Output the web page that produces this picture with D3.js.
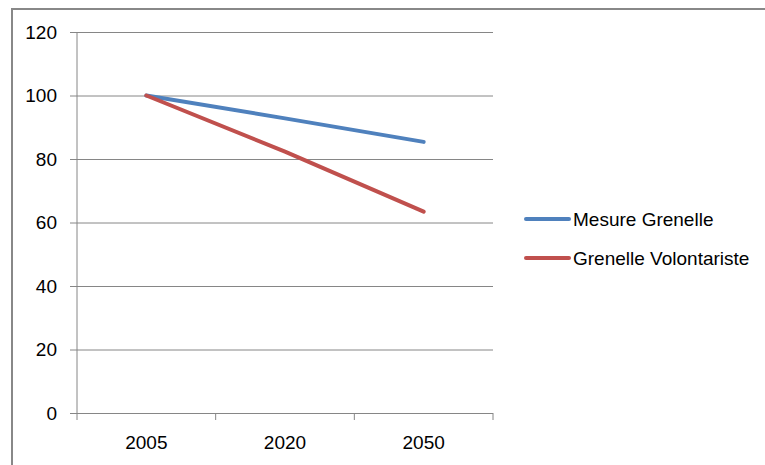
<!DOCTYPE html>
<html>
<head>
<meta charset="utf-8">
<script src="https://cdn.jsdelivr.net/npm/d3@7"></script>
<style>
  body { margin: 0; background: #fff; }
  text { font-family: "Liberation Sans", Arial, sans-serif; fill: #000; }
</style>
</head>
<body>
<svg width="765" height="465"></svg>
<script>
const years = ['2005', '2020', '2050']
const mesureGrenelle = [100, 92.8, 85.4]
const grenelleVolontariste = [100, 82.3, 63.4]
const yTicks = [0, 20, 40, 60, 80, 100, 120]

const series = [
  { name: 'Mesure Grenelle', values: mesureGrenelle, color: '#4f81bd' },
  { name: 'Grenelle Volontariste', values: grenelleVolontariste, color: '#c0504d' }
]

const svg = d3.select('svg')
const margin = { top: 32, left: 77, right: 272, bottom: 52 }
const width = +svg.attr('width')
const height = +svg.attr('height')
const fontSize = '19px'

// chart frame (runs off the bottom/right of the picture)
svg.append('rect')
  .attr('x', 12).attr('y', 9)
  .attr('width', 800).attr('height', 500)
  .attr('fill', 'none')
  .attr('stroke', '#888')
  .attr('stroke-width', 2)

const xScale = d3.scaleBand()
  .domain(years)
  .range([margin.left, width - margin.right])

const yScale = d3.scaleLinear()
  .domain([0, 120])
  .range([height - margin.bottom, margin.top])

// gridlines + y axis
const yAxis = d3.axisLeft(yScale)
  .tickValues(yTicks)
  .tickSize(7)
  .tickPadding(13)

const yAxisGroup = svg.append('g')
  .attr('transform', `translate(${margin.left - 7}, 0)`)
  .call(yAxis)
yAxisGroup.select('.domain').remove()
yAxisGroup.selectAll('.tick line')
  .attr('x2', 0)
  .attr('x1', width - margin.right - margin.left + 7)
  .attr('stroke', '#868686')
yAxisGroup.selectAll('.tick text')
  .attr('x', -13)
  .style('font-size', fontSize)

svg.append('line')
  .attr('x1', margin.left).attr('x2', margin.left)
  .attr('y1', margin.top).attr('y2', height - margin.bottom)
  .attr('stroke', '#868686')

// x axis: category labels + boundary ticks
const xAxis = d3.axisBottom(xScale).tickSize(0).tickPadding(23)
const xAxisGroup = svg.append('g')
  .attr('transform', `translate(0, ${height - margin.bottom})`)
  .call(xAxis)
xAxisGroup.select('.domain').remove()
xAxisGroup.selectAll('.tick text').style('font-size', fontSize)

const bounds = years.map(d => xScale(d)).concat([xScale.range()[1]])
svg.append('g').selectAll('line')
  .data(bounds)
  .join('line')
  .attr('x1', d => d).attr('x2', d => d)
  .attr('y1', height - margin.bottom)
  .attr('y2', height - margin.bottom + 7)
  .attr('stroke', '#868686')

// lines
const lineGenerator = d3.line()
  .x((d, i) => xScale(years[i]) + xScale.bandwidth() / 2)
  .y(d => yScale(d))

svg.append('g').selectAll('path')
  .data(series)
  .join('path')
  .attr('d', d => lineGenerator(d.values))
  .attr('fill', 'none')
  .attr('stroke', d => d.color)
  .attr('stroke-width', 4)
  .attr('stroke-linecap', 'round')

// legend
const legend = svg.append('g')
  .selectAll('g')
  .data(series)
  .join('g')
  .attr('transform', (d, i) => `translate(526, ${219 + i * 39})`)

legend.append('line')
  .attr('x1', 0).attr('x2', 43)
  .attr('stroke', d => d.color)
  .attr('stroke-width', 4)
  .attr('stroke-linecap', 'round')

legend.append('text')
  .attr('x', 47)
  .attr('dy', '0.35em')
  .style('font-size', fontSize)
  .text(d => d.name)
</script>
</body>
</html>
